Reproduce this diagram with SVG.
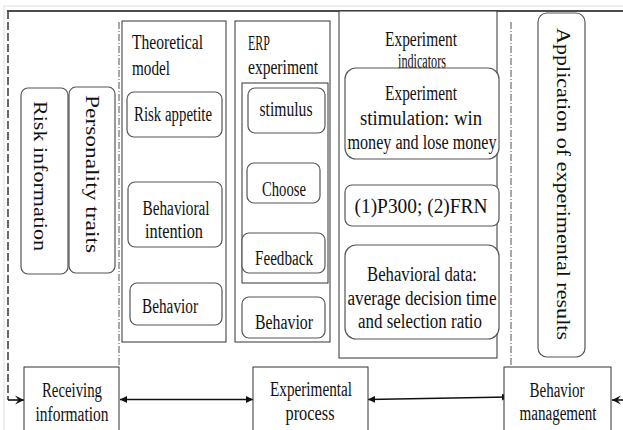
<svg xmlns="http://www.w3.org/2000/svg" width="623" height="430" viewBox="0 0 623 430">
<defs>
<style>
.t{font-family:"Liberation Serif","Times New Roman",serif;font-size:20px;fill:#111;text-anchor:middle}
.ts{font-family:"Liberation Serif","Times New Roman",serif;font-size:20px;fill:#111;text-anchor:start}
.v{font-family:"Liberation Serif","Times New Roman",serif;font-size:19px;fill:#111;text-anchor:middle}
.box{fill:#fff;stroke:#333;stroke-width:1}
.rbox{fill:#fff;stroke:#555;stroke-width:1.2}
.dash{fill:none;stroke:#444;stroke-width:1.6;stroke-dasharray:8 3}
.dd{fill:none;stroke:#555;stroke-width:1;stroke-dasharray:7 2 1 2}
.ln{fill:none;stroke:#111;stroke-width:1.6}
</style>
<marker id="ah" viewBox="0 0 10 10" refX="10" refY="5" markerWidth="7" markerHeight="7" orient="auto-start-reverse" markerUnits="userSpaceOnUse">
<path d="M0,0 L10,5 L0,10 Z" fill="#111"/>
</marker>
<marker id="ch" viewBox="0 0 10 10" refX="10" refY="5" markerWidth="9" markerHeight="10" orient="auto" markerUnits="userSpaceOnUse">
<path d="M0,0 L10,5 L0,10 L4,5 Z" fill="#111"/>
</marker>
</defs>
<rect x="0" y="0" width="623" height="430" fill="#fff"/>
<path d="M4,430 V6 H623" fill="none" stroke="#ddd" stroke-width="1"/>
<path d="M7,11 H623" class="ln"/>

<g id="connectors">
<path d="M8,11 V400" class="dash"/>
<path d="M8,400 H24" class="ln" marker-end="url(#ch)"/>
<path d="M119,22 V367" class="dd"/>
<path d="M511,22 V397" class="dd"/>
<path d="M623,400 H612" class="ln" marker-end="url(#ch)"/>
<path d="M120,399.5 H253" class="ln" marker-start="url(#ah)" marker-end="url(#ah)"/>
<path d="M368,399.5 L509,397" class="ln" marker-start="url(#ah)" marker-end="url(#ah)"/>
</g>

<g id="risk-information">
<rect x="21" y="88" width="47" height="186" rx="7" class="rbox"/>
<text class="v" transform="translate(33.5,176) rotate(90)" textLength="150" lengthAdjust="spacingAndGlyphs">Risk information</text>
</g>
<g id="personality-traits">
<rect x="69" y="87" width="46" height="186" rx="7" class="rbox"/>
<text class="v" transform="translate(85.5,174) rotate(90)" textLength="158" lengthAdjust="spacingAndGlyphs">Personality traits</text>
</g>

<g id="theoretical-model">
<rect x="122" y="21" width="104" height="321" class="box"/>
<text class="ts" x="132" y="49" textLength="71" lengthAdjust="spacingAndGlyphs">Theoretical</text>
<text class="ts" x="132" y="75" textLength="38" lengthAdjust="spacingAndGlyphs">model</text>
</g>
<g id="risk-appetite">
<rect x="127" y="92" width="95" height="45" rx="7" class="rbox"/>
<text class="t" x="173" y="121" textLength="78" lengthAdjust="spacingAndGlyphs">Risk appetite</text>
</g>
<g id="behavioral-intention">
<rect x="128" y="182" width="94" height="65" rx="7" class="rbox"/>
<text class="t" x="176" y="215" textLength="67" lengthAdjust="spacingAndGlyphs">Behavioral</text>
<text class="t" x="174" y="238" textLength="58" lengthAdjust="spacingAndGlyphs">intention</text>
</g>
<g id="behavior-1">
<rect x="130" y="283" width="92" height="42" rx="7" class="rbox"/>
<text class="t" x="170" y="313" textLength="56" lengthAdjust="spacingAndGlyphs">Behavior</text>
</g>

<g id="erp-experiment">
<rect x="235" y="21" width="95" height="321" class="box"/>
<text class="ts" x="248" y="50" textLength="22" lengthAdjust="spacingAndGlyphs">ERP</text>
<text class="ts" x="248" y="74" textLength="70" lengthAdjust="spacingAndGlyphs">experiment</text>
<rect x="242" y="83" width="86" height="200" class="box"/>
</g>
<g id="stimulus">
<rect x="248" y="88" width="77" height="45" rx="7" class="rbox"/>
<text class="t" x="286" y="116" textLength="53" lengthAdjust="spacingAndGlyphs">stimulus</text>
</g>
<g id="choose">
<rect x="247" y="163" width="73" height="40" rx="7" class="rbox"/>
<text class="t" x="284" y="196" textLength="44" lengthAdjust="spacingAndGlyphs">Choose</text>
</g>
<g id="feedback">
<rect x="242" y="233" width="83" height="40" rx="7" class="rbox"/>
<text class="t" x="284" y="265" textLength="58" lengthAdjust="spacingAndGlyphs">Feedback</text>
</g>
<g id="behavior-2">
<rect x="242" y="297" width="83" height="41" rx="7" class="rbox"/>
<text class="t" x="284" y="329" textLength="58" lengthAdjust="spacingAndGlyphs">Behavior</text>
</g>

<g id="experiment-indicators">
<rect x="339" y="11" width="158" height="347" class="box"/>
<text class="t" x="421" y="46" textLength="72" lengthAdjust="spacingAndGlyphs">Experiment</text>
<text class="t" x="422" y="68" textLength="48" lengthAdjust="spacingAndGlyphs">indicators</text>
</g>
<g id="experiment-stimulation">
<rect x="345" y="68" width="154" height="91" rx="11" class="rbox"/>
<text class="t" x="421" y="100" textLength="72" lengthAdjust="spacingAndGlyphs">Experiment</text>
<text class="t" x="421" y="125" textLength="122" lengthAdjust="spacingAndGlyphs">stimulation: win</text>
<text class="t" x="422" y="149" textLength="149" lengthAdjust="spacingAndGlyphs">money and lose money</text>
</g>
<g id="p300-frn">
<rect x="345" y="185" width="154" height="41" rx="7" class="rbox"/>
<text class="t" x="421" y="213" textLength="133" lengthAdjust="spacingAndGlyphs">(1)P300; (2)FRN</text>
</g>
<g id="behavioral-data">
<rect x="345" y="245" width="154" height="94" rx="11" class="rbox"/>
<text class="t" x="422" y="281" textLength="110" lengthAdjust="spacingAndGlyphs">Behavioral data:</text>
<text class="t" x="422" y="305" textLength="149" lengthAdjust="spacingAndGlyphs">average decision time</text>
<text class="t" x="420" y="328" textLength="124" lengthAdjust="spacingAndGlyphs">and selection ratio</text>
</g>

<g id="application">
<rect x="538" y="13" width="47" height="344" rx="9" class="rbox"/>
<text class="v" transform="translate(557,184) rotate(90)" textLength="312" lengthAdjust="spacingAndGlyphs">Application of experimental results</text>
</g>

<g id="receiving-information">
<rect x="24" y="367" width="95" height="70" class="box"/>
<text class="t" x="72" y="397" textLength="60" lengthAdjust="spacingAndGlyphs">Receiving</text>
<text class="t" x="72" y="421" textLength="73" lengthAdjust="spacingAndGlyphs">information</text>
</g>
<g id="experimental-process">
<rect x="253" y="367" width="115" height="70" class="box"/>
<text class="t" x="311" y="396" textLength="82" lengthAdjust="spacingAndGlyphs">Experimental</text>
<text class="t" x="310" y="420" textLength="49" lengthAdjust="spacingAndGlyphs">process</text>
</g>
<g id="behavior-management">
<rect x="504" y="367" width="107" height="70" class="box"/>
<text class="t" x="557" y="397" textLength="55" lengthAdjust="spacingAndGlyphs">Behavior</text>
<text class="t" x="558" y="420" textLength="77" lengthAdjust="spacingAndGlyphs">management</text>
</g>
</svg>
